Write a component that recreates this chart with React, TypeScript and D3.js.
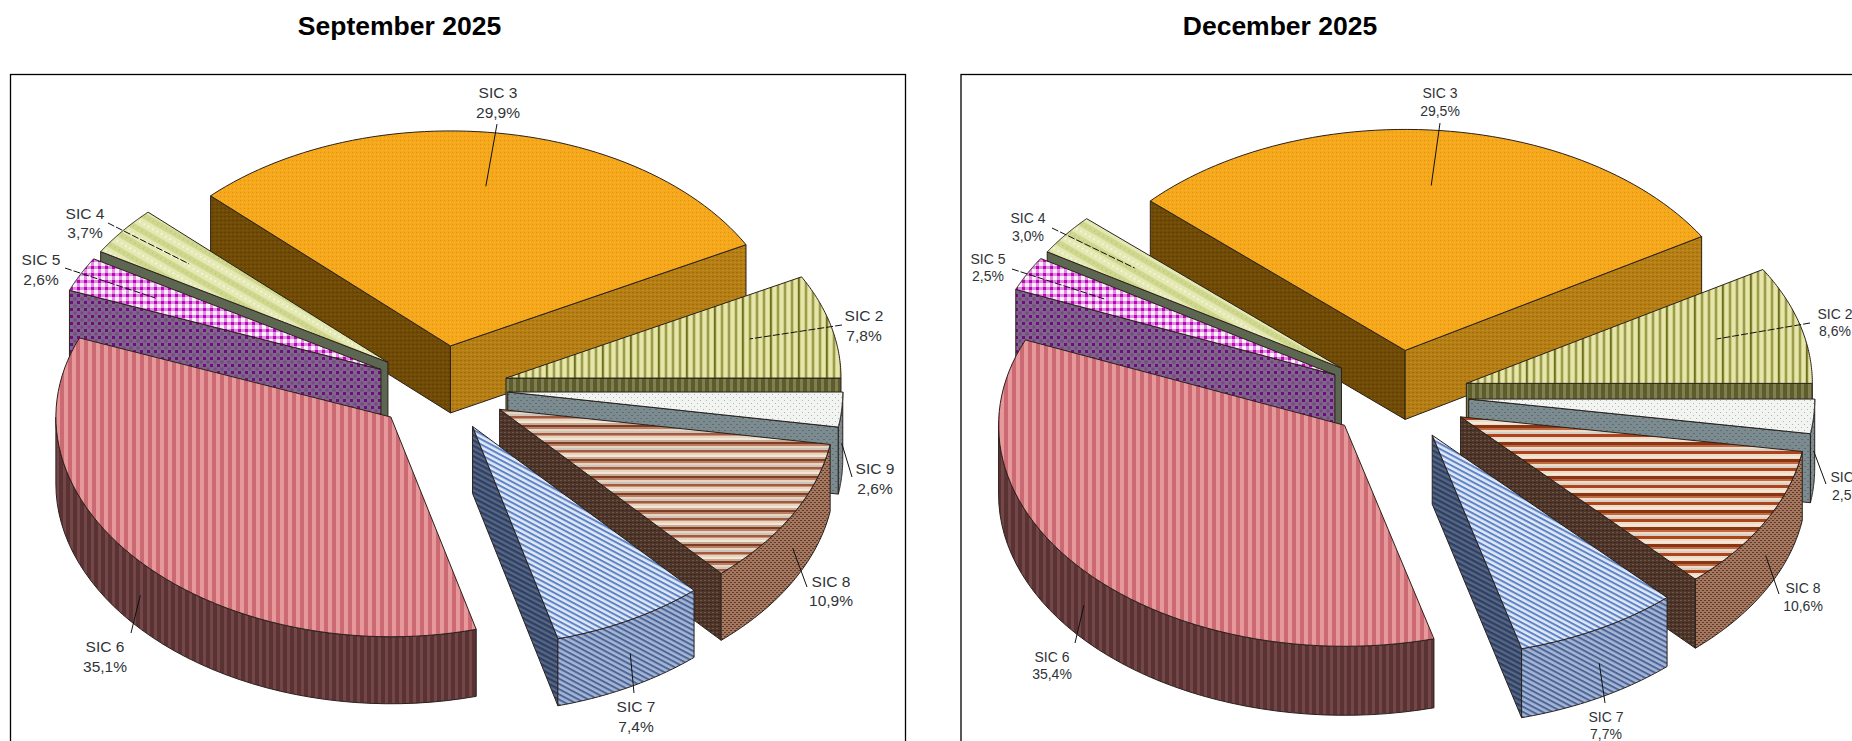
import * as d3 from 'd3'

const categories = ['SIC 3', 'SIC 2', 'SIC 9', 'SIC 8', 'SIC 7', 'SIC 6', 'SIC 5', 'SIC 4']
const septemberValues = [29.9, 7.8, 2.6, 10.9, 7.4, 35.1, 2.6, 3.7]
const decemberValues = [29.5, 8.6, 2.5, 10.6, 7.7, 35.4, 2.5, 3.0]

// back to front, the order the wedges have to be painted in
const paintOrder = ['SIC 3', 'SIC 2', 'SIC 4', 'SIC 5', 'SIC 9', 'SIC 8', 'SIC 7', 'SIC 6']
const dashedLeaders = ['SIC 2', 'SIC 4', 'SIC 5']

type Fills = { top: string; wall: string; startFace: string; endFace: string }

const fills: Record<string, Fills> = {
  'SIC 3': { top: 'p3top', wall: 'p3wall', startFace: 'p3dark', endFace: 'p3wall' },
  'SIC 2': { top: 'p2top', wall: 'p2side', startFace: 'p2side', endFace: 'p2side' },
  'SIC 9': { top: 'p9top', wall: 'p9side', startFace: 'p9side', endFace: 'p9side' },
  'SIC 8': { top: 'p8top', wall: 'p8wall', startFace: 'p8dark', endFace: 'p8dark' },
  'SIC 7': { top: 'p7top', wall: 'p7wall', startFace: 'p7dark', endFace: 'p7dark' },
  'SIC 6': { top: 'p6top', wall: 'p6side', startFace: 'p6side', endFace: 'p6side' },
  'SIC 5': { top: 'p5top', wall: 'p5side', startFace: 'p5side', endFace: 'p5side' },
  'SIC 4': { top: 'p4top', wall: '#5c6650', startFace: '#5c6650', endFace: '#5c6650' },
}

type Label = { x: number; y1: number; y2: number; ox: number; oy: number }

type Panel = {
  title: string
  titleX: number
  values: number[]
  frameX: number
  frameW: number
  cx: number
  cy: number
  rx: number
  ry: number
  frontStretch: number
  depth: number
  explode: number
  fontSize: number
  top8: string
  labels: Record<string, Label>
}

const panels: Panel[] = [
  {
    title: 'September 2025',
    titleX: 399.5,
    values: septemberValues,
    frameX: 10.5,
    frameW: 895,
    cx: 441,
    cy: 388.5,
    rx: 335,
    ry: 215,
    frontStretch: 0.022,
    depth: 67,
    explode: 0.2,
    fontSize: 15.5,
    top8: 'p8top',
    labels: {
      'SIC 3': { x: 498, y1: 98, y2: 118, ox: 497, oy: 124 },
      'SIC 4': { x: 85, y1: 219, y2: 238, ox: 108, oy: 223 },
      'SIC 5': { x: 41, y1: 265, y2: 285, ox: 65, oy: 268 },
      'SIC 2': { x: 864, y1: 321, y2: 341, ox: 842, oy: 325 },
      'SIC 9': { x: 875, y1: 474, y2: 494, ox: 852, oy: 477 },
      'SIC 8': { x: 831, y1: 587, y2: 606, ox: 807, oy: 587 },
      'SIC 7': { x: 636, y1: 712, y2: 732, ox: 634, oy: 693 },
      'SIC 6': { x: 105, y1: 652, y2: 672, ox: 131, oy: 633 },
    },
  },
  {
    title: 'December 2025',
    titleX: 1280,
    values: decemberValues,
    frameX: 961,
    frameW: 1000,
    cx: 1398,
    cy: 395.5,
    rx: 346,
    ry: 221,
    frontStretch: 0,
    depth: 69,
    explode: 0.205,
    fontSize: 14,
    top8: 'p8topDec',
    labels: {
      'SIC 3': { x: 1440, y1: 98, y2: 116, ox: 1440, oy: 123 },
      'SIC 4': { x: 1028, y1: 223, y2: 241, ox: 1052, oy: 228 },
      'SIC 5': { x: 988, y1: 264, y2: 281, ox: 1012, oy: 269 },
      'SIC 2': { x: 1835, y1: 319, y2: 336, ox: 1810, oy: 323 },
      'SIC 9': { x: 1848, y1: 482, y2: 500, ox: 1826, oy: 484 },
      'SIC 8': { x: 1803, y1: 593, y2: 611, ox: 1779, oy: 594 },
      'SIC 7': { x: 1606, y1: 722, y2: 739, ox: 1605, oy: 703 },
      'SIC 6': { x: 1052, y1: 662, y2: 679, ox: 1075, oy: 643 },
    },
  },
]

const font = '"Liberation Sans", Arial, sans-serif'
const outline = '#2a211c'
const pathLine = d3.line()

function Patterns() {
  return (
    <defs>
      <pattern id="p3top" width="4" height="4" patternUnits="userSpaceOnUse">
        <rect width="4" height="4" fill="#f6a81c" />
        <rect x="0" y="0" width="1" height="1" fill="#e09412" />
        <rect x="2" y="2" width="1" height="1" fill="#fbb52e" />
      </pattern>
      <pattern id="p3wall" width="4" height="4" patternUnits="userSpaceOnUse">
        <rect width="4" height="4" fill="#b67f15" />
        <rect x="0" y="0" width="2" height="1" fill="#9c6c0d" />
        <rect x="2" y="2" width="2" height="1" fill="#c48b1c" />
      </pattern>
      <pattern id="p3dark" width="4" height="4" patternUnits="userSpaceOnUse">
        <rect width="4" height="4" fill="#704b07" />
        <rect x="0" y="0" width="2" height="1" fill="#5f3f04" />
        <rect x="2" y="2" width="2" height="1" fill="#7d560c" />
      </pattern>
      <pattern id="p2top" width="28" height="4" patternUnits="userSpaceOnUse">
        <rect width="28" height="4" fill="#cfcf86" />
        {d3.range(0, 28, 7).map(x => (
          <g key={x}>
            <rect x={x} width="2" height="4" fill="#9c9c50" />
            <rect x={x + 3} width="3" height="4" fill="#e6e6aa" />
          </g>
        ))}
        <rect x="14" width="1.5" height="4" fill="#6f6f24" />
      </pattern>
      <pattern id="p2side" width="7" height="4" patternUnits="userSpaceOnUse">
        <rect width="7" height="4" fill="#5d5d2c" />
        <rect x="2" width="3" height="4" fill="#7f7f52" />
      </pattern>
      <pattern id="p9top" width="6" height="6" patternUnits="userSpaceOnUse">
        <rect width="6" height="6" fill="#f1f4f1" />
        <rect x="1" y="1" width="1" height="1" fill="#a9b8b4" />
        <rect x="4" y="4" width="1" height="1" fill="#a9b8b4" />
      </pattern>
      <pattern id="p9side" width="6" height="6" patternUnits="userSpaceOnUse">
        <rect width="6" height="6" fill="#7c8b90" />
        <rect x="1" y="1" width="2" height="1" fill="#5f6d72" />
        <rect x="4" y="4" width="2" height="1" fill="#5f6d72" />
      </pattern>
      <pattern id="p8top" width="6" height="17" patternUnits="userSpaceOnUse">
        <rect width="6" height="17" fill="#e8d5c0" />
        <rect y="0" width="6" height="2" fill="#7e3d24" />
        <rect y="2" width="6" height="2" fill="#b97e64" />
        <rect y="6" width="6" height="2" fill="#cfc4bc" />
        <rect y="8" width="6" height="2" fill="#a35a3e" />
        <rect y="10" width="6" height="1" fill="#c99278" />
        <rect y="13" width="6" height="2" fill="#f2e6d6" />
        <rect y="15" width="6" height="2" fill="#c8a993" />
      </pattern>
      <pattern id="p8topDec" width="6" height="17" patternUnits="userSpaceOnUse">
        <rect width="6" height="17" fill="#efdcc6" />
        <rect y="0" width="6" height="3" fill="#8a3615" />
        <rect y="3" width="6" height="2" fill="#c06a44" />
        <rect y="7" width="6" height="2" fill="#d8cfc8" />
        <rect y="9" width="6" height="3" fill="#ad441b" />
        <rect y="14" width="6" height="2" fill="#f2e6d6" />
      </pattern>
      <pattern id="p8wall" width="4" height="4" patternUnits="userSpaceOnUse">
        <rect width="4" height="4" fill="#a5775f" />
        <rect x="0" y="0" width="2" height="1" fill="#5e3c2d" />
        <rect x="2" y="2" width="2" height="1" fill="#5e3c2d" />
      </pattern>
      <pattern id="p8dark" width="4" height="4" patternUnits="userSpaceOnUse">
        <rect width="4" height="4" fill="#4e362b" />
        <rect x="0" y="0" width="2" height="1" fill="#6f5445" />
        <rect x="2" y="2" width="2" height="1" fill="#3a261d" />
      </pattern>
      <pattern id="p7top" width="6" height="4.6" patternUnits="userSpaceOnUse" patternTransform="rotate(28)">
        <rect width="6" height="4.6" fill="#dfe9f8" />
        <rect y="0" width="6" height="2" fill="#5f83c4" />
      </pattern>
      <pattern id="p7wall" width="6" height="4.6" patternUnits="userSpaceOnUse" patternTransform="rotate(28)">
        <rect width="6" height="4.6" fill="#a4b5d6" />
        <rect y="0" width="6" height="2" fill="#4d6696" />
      </pattern>
      <pattern id="p7dark" width="6" height="4.6" patternUnits="userSpaceOnUse" patternTransform="rotate(28)">
        <rect width="6" height="4.6" fill="#566788" />
        <rect y="0" width="6" height="2.3" fill="#2f3f5f" />
      </pattern>
      <pattern id="p6top" width="8" height="4" patternUnits="userSpaceOnUse">
        <rect width="8" height="4" fill="#e6989b" />
        <rect x="4" width="4" height="4" fill="#cb6a72" />
      </pattern>
      <pattern id="p6side" width="7" height="4" patternUnits="userSpaceOnUse">
        <rect width="7" height="4" fill="#744648" />
        <rect x="3" width="4" height="4" fill="#593234" />
      </pattern>
      <pattern id="p5top" width="7" height="7" patternUnits="userSpaceOnUse">
        <rect width="7" height="7" fill="#fbeffb" />
        <rect x="0" width="3" height="7" fill="#e48ae4" />
        <rect y="0" width="7" height="3" fill="#e48ae4" />
        <rect x="0" y="0" width="3" height="3" fill="#b808b8" />
      </pattern>
      <pattern id="p5side" width="7" height="7" patternUnits="userSpaceOnUse">
        <rect width="7" height="7" fill="#80658c" />
        <rect x="0" y="0" width="3" height="3" fill="#6c0f7c" />
        <rect x="3.5" y="3.5" width="3" height="3" fill="#76487f" />
      </pattern>
      <pattern id="p4top" width="5" height="14" patternUnits="userSpaceOnUse" patternTransform="rotate(30)">
        <rect width="5" height="14" fill="#e4e9b4" />
        <rect y="0" width="5" height="6" fill="#d0d890" />
        <rect x="1" y="9" width="2" height="2" fill="#f3f5d6" />
        <rect x="3" y="2" width="1" height="2" fill="#bcc676" />
      </pattern>
    </defs>
  )
}

function PieChart({ panel }: { panel: Panel }) {
  const { values, cx, cy, rx, ry, frontStretch, depth, explode } = panel
  const sum = d3.sum(values)
  // the SIC 2 / SIC 9 boundary sits exactly at 3 o'clock in both pies
  const start = Math.PI / 2 - (2 * Math.PI * (values[0] + values[1])) / sum
  const arcs = d3.pie<number>().sort(null).startAngle(start).endAngle(start + 2 * Math.PI)(values)

  const slices = categories.map((name, i) => {
    const a0 = arcs[i].startAngle
    const a1 = arcs[i].endAngle
    const mid = (a0 + a1) / 2
    const ax = cx + explode * rx * Math.sin(mid)
    const ay = cy - explode * ry * Math.cos(mid)
    const pt = (a: number, r = 1, z = 0): [number, number] => {
      const c = Math.cos(a)
      // the near half of the pie reads slightly taller than the far half
      const stretch = 1 + frontStretch * Math.max(0, -c)
      return [ax + rx * r * Math.sin(a), ay - ry * r * c * stretch + z]
    }
    return { name, value: values[i], a0, a1, mid, pt, apex: [ax, ay] as [number, number] }
  })

  const ordered = paintOrder.map(n => slices.find(s => s.name === n)!)

  return (
    <g>
      <rect x={panel.frameX} y={74.5} width={panel.frameW} height={760} fill="#fff" stroke="#000" strokeWidth={1.3} />
      <text x={panel.titleX} y={35} textAnchor="middle" fontFamily={font} fontWeight="bold" fontSize={26.5} fill="#000">
        {panel.title}
      </text>

      {ordered.map(s => {
        const f = fills[s.name]
        const steps = d3.range(0, 61).map(k => s.a0 + ((s.a1 - s.a0) * k) / 60)
        const top = pathLine([s.apex, ...steps.map(a => s.pt(a))])! + 'Z'
        const face = (a: number) =>
          pathLine([s.pt(a, 0), s.pt(a), s.pt(a, 1, depth), s.pt(a, 0, depth)])! + 'Z'
        // outer wall only shows on the front half of the ellipse
        const lo = Math.max(s.a0, Math.PI / 2)
        const hi = Math.min(s.a1, (3 * Math.PI) / 2)
        const wallSteps = hi > lo ? d3.range(0, 41).map(k => lo + ((hi - lo) * k) / 40) : []
        const wall = wallSteps.length
          ? pathLine([...wallSteps.map(a => s.pt(a)), ...wallSteps.slice().reverse().map(a => s.pt(a, 1, depth))])! + 'Z'
          : null
        const paint = (v: string) => (v.startsWith('#') ? v : `url(#${v})`)
        const topFill = s.name === 'SIC 8' ? panel.top8 : f.top
        return (
          <g key={s.name} stroke={outline} strokeWidth={1} strokeLinejoin="round">
            {Math.sin(s.a0) < 0 && <path d={face(s.a0)} fill={paint(f.startFace)} />}
            {Math.sin(s.a1) > 0 && <path d={face(s.a1)} fill={paint(f.endFace)} />}
            {wall && <path d={wall} fill={paint(f.wall)} />}
            <path d={top} fill={paint(topFill)} />
          </g>
        )
      })}

      {slices.map(s => {
        const l = panel.labels[s.name]
        // leaders end on the top face for back wedges, half way down the wall for front ones
        const end = Math.cos(s.mid) > 0 ? s.pt(s.mid, 0.75) : s.pt(s.mid, 1, depth / 2)
        return (
          <g key={s.name}>
            <line
              x1={l.ox}
              y1={l.oy}
              x2={end[0]}
              y2={end[1]}
              stroke="#111"
              strokeWidth={1}
              strokeDasharray={dashedLeaders.includes(s.name) ? '7 2' : undefined}
            />
            <g fontFamily={font} fontSize={panel.fontSize} fill="#2f3337" textAnchor="middle">
              <text x={l.x} y={l.y1}>{s.name}</text>
              <text x={l.x} y={l.y2}>{s.value.toFixed(1).replace('.', ',')}%</text>
            </g>
          </g>
        )
      })}
    </g>
  )
}

export default function App() {
  return (
    <svg
      width={1852}
      height={741}
      viewBox="0 0 1852 741"
      style={{ position: 'absolute', left: 0, top: 0, background: '#fff' }}
    >
      <Patterns />
      {panels.map(p => (
        <PieChart key={p.title} panel={p} />
      ))}
    </svg>
  )
}
